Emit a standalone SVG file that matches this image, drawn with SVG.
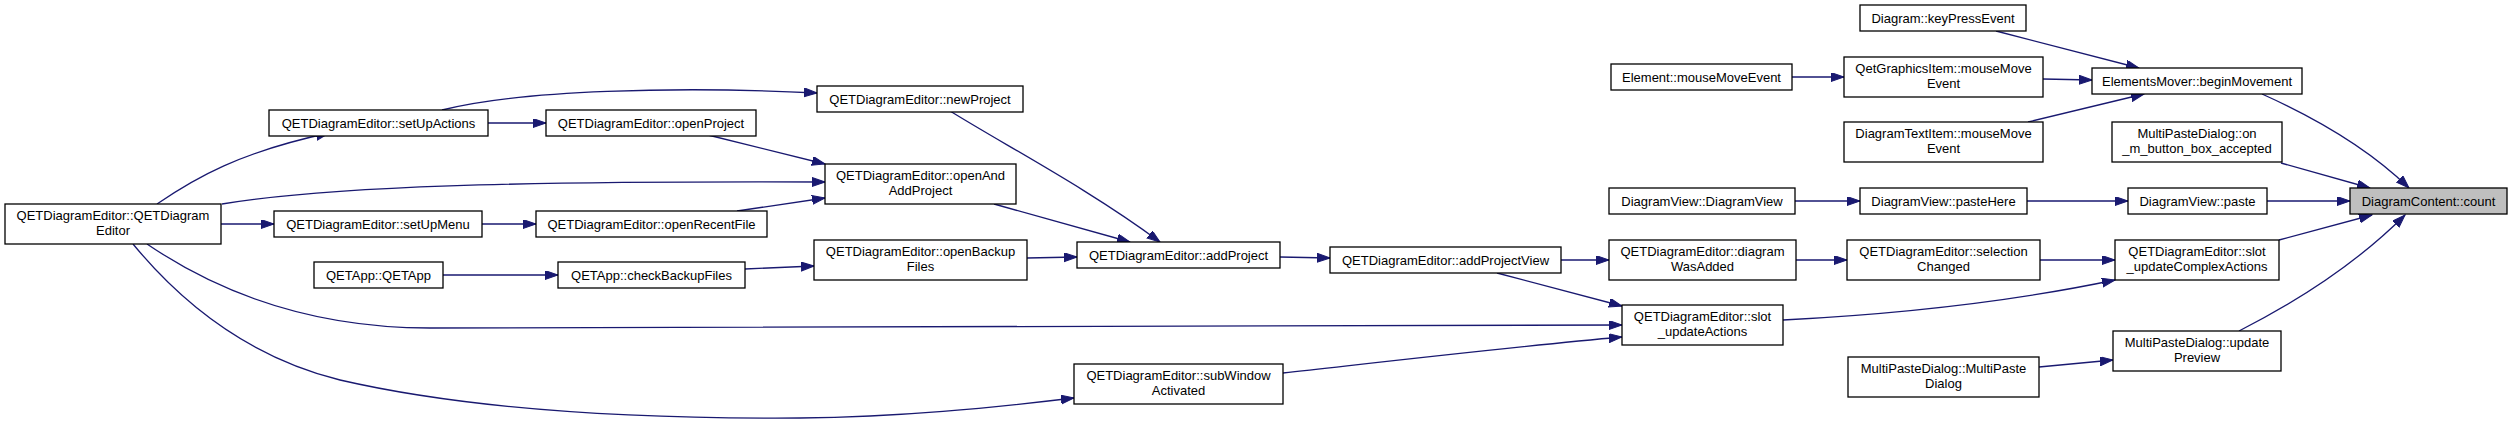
<svg xmlns="http://www.w3.org/2000/svg" width="2512" height="424" viewBox="0 0 2512 424">
<defs>
<style>
.n rect{fill:#fff;stroke:#000;stroke-width:1.3}
.n.hl rect{fill:#bfbfbf}
.n text{font-family:"Liberation Sans",Arial,sans-serif;font-size:13px;fill:#000;text-anchor:middle}
.e path{fill:none;stroke:#191970;stroke-width:1.3;marker-end:url(#ah)}
</style>
<marker id="ah" markerUnits="userSpaceOnUse" markerWidth="14" markerHeight="10" refX="13" refY="4.5" orient="auto">
<path d="M0,0 L13,4.5 L0,9 Z" fill="#191970" stroke="#191970" stroke-width="1"/>
</marker>
</defs>
<rect width="2512" height="424" fill="#fff"/>
<g id="edges" class="e">
<path d="M442,110 C520,90 680,86 817,93"/>
<path d="M157,204 C195,178 240,152 329,133"/>
<path d="M488,123 L546,123"/>
<path d="M708,135 L825,164"/>
<path d="M222,204 C330,186 520,181 825,182"/>
<path d="M737,211 L825,198"/>
<path d="M221,224 L274,224"/>
<path d="M482,224 L536,224"/>
<path d="M950,111 C1010,148 1090,190 1160,242"/>
<path d="M994,204 L1130,242"/>
<path d="M1027,258 L1077,257"/>
<path d="M745,269 L814,266"/>
<path d="M443,275 L558,275"/>
<path d="M1280,257 L1330,258"/>
<path d="M1561,260 L1609,260"/>
<path d="M1497,273 L1622,306"/>
<path d="M147,244 C200,280 290,328 430,328 C800,325 1200,325 1622,325"/>
<path d="M133,244 C175,295 240,355 340,380 C470,410 640,419 800,418 C900,417 990,408 1074,398"/>
<path d="M1283,373 C1400,360 1520,346 1622,337"/>
<path d="M1796,260 L1847,260"/>
<path d="M2040,260 L2115,260"/>
<path d="M1783,320 C1900,314 2010,302 2115,280"/>
<path d="M2279,240 L2372,215"/>
<path d="M2239,331 C2300,300 2360,260 2405,215"/>
<path d="M2039,367 L2113,360"/>
<path d="M2267,201 L2350,201"/>
<path d="M2027,201 L2128,201"/>
<path d="M1795,201 L1860,201"/>
<path d="M1996,31 L2139,68"/>
<path d="M1792,77 L1844,77"/>
<path d="M2043,79 L2092,80"/>
<path d="M2028,122 L2144,94"/>
<path d="M2262,94 C2320,120 2370,150 2409,188"/>
<path d="M2281,163 L2370,188"/>
</g>
<g id="n_keyPress" class="n"><rect x="1860" y="5" width="166" height="26"/><text x="1943" y="22.5">Diagram::keyPressEvent</text></g>
<g id="n_elemMouse" class="n"><rect x="1611" y="64" width="181" height="26"/><text x="1701.5" y="81.5">Element::mouseMoveEvent</text></g>
<g id="n_qgiMouse" class="n"><rect x="1844" y="57" width="199" height="40"/><text x="1943.5" y="73">QetGraphicsItem::mouseMove</text><text x="1943.5" y="88">Event</text></g>
<g id="n_beginMov" class="n"><rect x="2092" y="68" width="210" height="26"/><text x="2197" y="85.5">ElementsMover::beginMovement</text></g>
<g id="n_dtiMouse" class="n"><rect x="1844" y="122" width="199" height="40"/><text x="1943.5" y="138">DiagramTextItem::mouseMove</text><text x="1943.5" y="153">Event</text></g>
<g id="n_accepted" class="n"><rect x="2112" y="122" width="170" height="40"/><text x="2197" y="138">MultiPasteDialog::on</text><text x="2197" y="153">_m_button_box_accepted</text></g>
<g id="n_count" class="n hl"><rect x="2350" y="188" width="157" height="26"/><text x="2428.5" y="205.5">DiagramContent::count</text></g>
<g id="n_dvdv" class="n"><rect x="1609" y="188" width="186" height="26"/><text x="1702" y="205.5">DiagramView::DiagramView</text></g>
<g id="n_pasteHere" class="n"><rect x="1860" y="188" width="167" height="26"/><text x="1943.5" y="205.5">DiagramView::pasteHere</text></g>
<g id="n_paste" class="n"><rect x="2128" y="188" width="139" height="26"/><text x="2197.5" y="205.5">DiagramView::paste</text></g>
<g id="n_wasAdded" class="n"><rect x="1609" y="240" width="187" height="40"/><text x="1702.5" y="256">QETDiagramEditor::diagram</text><text x="1702.5" y="271">WasAdded</text></g>
<g id="n_selChanged" class="n"><rect x="1847" y="240" width="193" height="40"/><text x="1943.5" y="256">QETDiagramEditor::selection</text><text x="1943.5" y="271">Changed</text></g>
<g id="n_complex" class="n"><rect x="2115" y="240" width="164" height="40"/><text x="2197" y="256">QETDiagramEditor::slot</text><text x="2197" y="271">_updateComplexActions</text></g>
<g id="n_slotUpd" class="n"><rect x="1622" y="305" width="161" height="40"/><text x="1702.5" y="321">QETDiagramEditor::slot</text><text x="1702.5" y="336">_updateActions</text></g>
<g id="n_updPreview" class="n"><rect x="2113" y="331" width="168" height="40"/><text x="2197" y="347">MultiPasteDialog::update</text><text x="2197" y="362">Preview</text></g>
<g id="n_mpdCtor" class="n"><rect x="1848" y="357" width="191" height="40"/><text x="1943.5" y="373">MultiPasteDialog::MultiPaste</text><text x="1943.5" y="388">Dialog</text></g>
<g id="n_addPV" class="n"><rect x="1330" y="247" width="231" height="26"/><text x="1445.5" y="264.5">QETDiagramEditor::addProjectView</text></g>
<g id="n_addProj" class="n"><rect x="1077" y="242" width="203" height="26"/><text x="1178.5" y="259.5">QETDiagramEditor::addProject</text></g>
<g id="n_openBackup" class="n"><rect x="814" y="240" width="213" height="40"/><text x="920.5" y="256">QETDiagramEditor::openBackup</text><text x="920.5" y="271">Files</text></g>
<g id="n_subWin" class="n"><rect x="1074" y="364" width="209" height="40"/><text x="1178.5" y="380">QETDiagramEditor::subWindow</text><text x="1178.5" y="395">Activated</text></g>
<g id="n_checkBackup" class="n"><rect x="558" y="262" width="187" height="26"/><text x="651.5" y="279.5">QETApp::checkBackupFiles</text></g>
<g id="n_qetapp" class="n"><rect x="314" y="262" width="129" height="26"/><text x="378.5" y="279.5">QETApp::QETApp</text></g>
<g id="n_openRecent" class="n"><rect x="536" y="211" width="231" height="26"/><text x="651.5" y="228.5">QETDiagramEditor::openRecentFile</text></g>
<g id="n_setUpMenu" class="n"><rect x="274" y="211" width="208" height="26"/><text x="378" y="228.5">QETDiagramEditor::setUpMenu</text></g>
<g id="n_ctor" class="n"><rect x="5" y="204" width="216" height="40"/><text x="113" y="220">QETDiagramEditor::QETDiagram</text><text x="113" y="235">Editor</text></g>
<g id="n_setUpActions" class="n"><rect x="269" y="110" width="219" height="26"/><text x="378.5" y="127.5">QETDiagramEditor::setUpActions</text></g>
<g id="n_openProject" class="n"><rect x="546" y="110" width="210" height="26"/><text x="651" y="127.5">QETDiagramEditor::openProject</text></g>
<g id="n_newProject" class="n"><rect x="817" y="86" width="206" height="26"/><text x="920" y="103.5">QETDiagramEditor::newProject</text></g>
<g id="n_openAndAdd" class="n"><rect x="825" y="164" width="191" height="40"/><text x="920.5" y="180">QETDiagramEditor::openAnd</text><text x="920.5" y="195">AddProject</text></g>
</svg>
